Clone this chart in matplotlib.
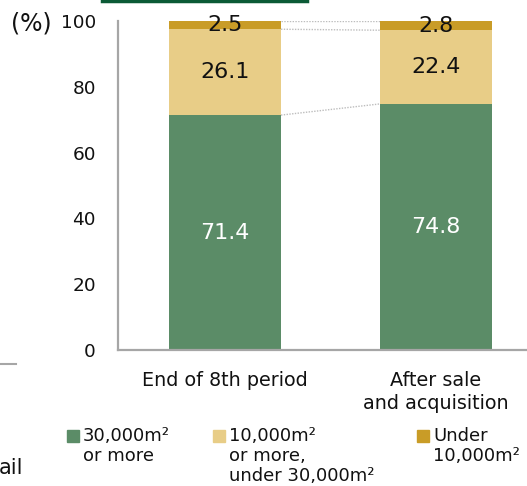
import matplotlib.pyplot as plt
from matplotlib.patches import Rectangle
from matplotlib.lines import Line2D
import numpy as np

plt.rcParams['font.family'] = ['DejaVu Sans']

categories = ['End of 8th period', 'After sale\nand acquisition']
large = [71.4, 74.8]     # 30,000m2 or more
medium = [26.1, 22.4]    # 10,000m2 or more, under 30,000m2
small = [2.5, 2.8]       # under 10,000m2
legend_labels = ['30,000m²\nor more', '10,000m²\nor more,\nunder 30,000m²', 'Under\n10,000m²']

colors = ['#5B8C67', '#E8CD87', '#C99C27']
text_colors = ['white', '#111111', '#111111']

W, H = 527, 486
fig = plt.figure(figsize=(W / 100, H / 100), dpi=100)

def px(x, y):
    # pixel position (from top-left) to figure fraction
    return x / W, 1 - y / H

ax = fig.add_axes([118 / W, (H - 350) / H, (W - 118) / W, 329 / H])
x = np.arange(len(categories))
width = 0.531

series = [large, medium, small]
bottoms = np.zeros(len(categories))
for vals, c, tc in zip(series, colors, text_colors):
    vals = np.array(vals)
    ax.bar(x, vals, width, bottom=bottoms, color=c, zorder=2)
    for xi, b, v in zip(x, bottoms, vals):
        ax.text(xi, b + v / 2, f'{v:.1f}', ha='center', va='center',
                fontsize=16, color=tc, zorder=3)
    bottoms = bottoms + vals

# dotted connectors between the segment boundaries
bounds = np.cumsum(np.array(series), axis=0)
for row in bounds:
    ax.plot([x[0] + width / 2, x[1] - width / 2], [row[0], row[1]],
            linestyle=(0, (1, 1)), color='#BDBDBD', linewidth=1, zorder=1)

ax.set_xlim(-0.507, 1.431)
ax.set_ylim(0, 100)
ax.set_yticks([0, 20, 40, 60, 80, 100])
ax.set_xticks(x)
ax.set_xticklabels(categories, fontsize=13.8, color='#111111', linespacing=1.3)
ax.tick_params(axis='y', length=0, pad=16, labelsize=13.3, labelcolor='#111111')
ax.tick_params(axis='x', length=0, pad=15)
for s in ['top', 'right']:
    ax.spines[s].set_visible(False)
for s in ['left', 'bottom']:
    ax.spines[s].set_color('#A6A6A6')
    ax.spines[s].set_linewidth(1.6)

fig.text(*px(11, 24), '(%)', fontsize=17, color='#111111', va='center', ha='left')

# legend
legend_x = [67, 213, 417]
for lx, c, lab in zip(legend_x, colors, legend_labels):
    fx, fy = px(lx, 442)
    fig.add_artist(Rectangle((fx, fy), 12 / W, 12 / H, color=c, transform=fig.transFigure))
    fig.text(*px(lx + 16, 427), lab, fontsize=13, color='#111111',
             va='top', ha='left', linespacing=1.15)

# neighbouring page elements
fig.add_artist(Line2D([102 / W, 307 / W], [1 - 1 / H, 1 - 1 / H], color='#0B5A36',
                      linewidth=2.5, transform=fig.transFigure))
fig.add_artist(Line2D([0, 16 / W], [1 - 364 / H, 1 - 364 / H], color='#A6A6A6',
                      linewidth=1.5, transform=fig.transFigure))
fig.text(*px(-1, 468), 'ail', fontsize=15, color='#111111', va='center', ha='left')

fig.savefig('out.png', dpi=100)
